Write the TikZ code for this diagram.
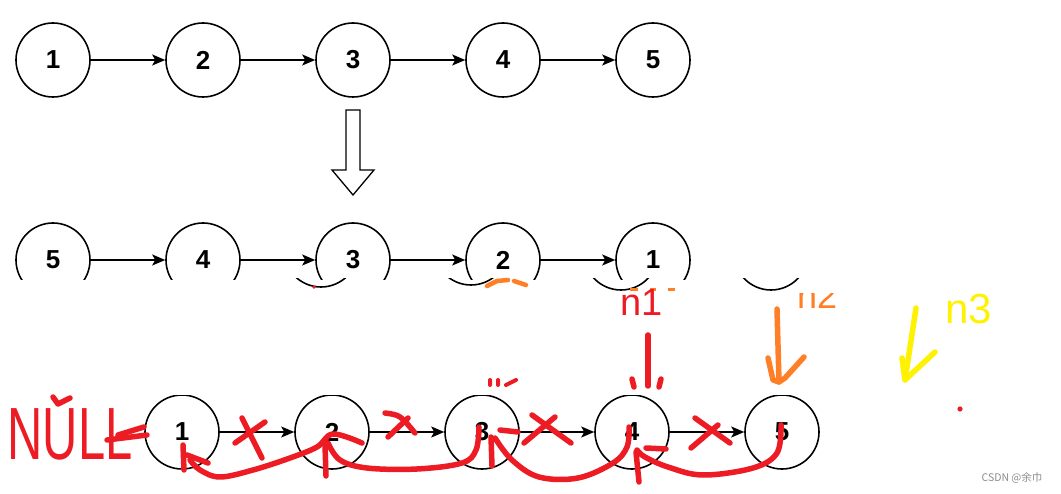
\documentclass[tikz,border=0pt]{standalone}
\usepackage{fontspec}
\setmainfont{Liberation Sans}
\newfontfamily\cjkfont{Noto Sans CJK SC}
\usetikzlibrary{arrows.meta,calc}
\definecolor{pred}{RGB}{237,28,36}
\definecolor{porange}{RGB}{255,127,39}
\definecolor{pyellow}{RGB}{255,242,0}
\begin{document}
\begin{tikzpicture}[x=1pt,y=-1pt,
  nd/.style={circle,draw,line width=1.6pt,minimum size=74pt,inner sep=0pt,font=\fontsize{26}{26}\selectfont\bfseries},
  lk/.style={line width=1.5pt,-{Stealth[length=13pt,width=11pt,inset=3pt]}},
  hand/.style={line width=5.5pt,line cap=round,line join=round,draw=pred},
  handtext/.style={inner sep=0pt,anchor=base west},
]
\useasboundingbox[fill=white] (0,0) rectangle (1061,494);

% ---- row 1
\foreach \i/\x in {1/53,2/203,3/353,4/503,5/653}
  \node[nd] (a\i) at (\x,60) {\i};
\foreach \i/\j in {1/2,2/3,3/4,4/5}
  \draw[lk] (a\i) -- (a\j);

% ---- hollow arrow
\draw[line width=1.3pt,line join=miter] (346,110) -- (360,110) -- (360,170) -- (374,170)
  -- (353,195) -- (332,170) -- (346,170) -- cycle;

% ---- row 2 (clipped)
\begin{scope}
  \clip (0,0) rectangle (1061,280);
  \foreach \i/\x/\t in {1/53/5,2/203/4,3/353/3,4/503/2,5/653/1}
    \node[nd] (b\i) at (\x,260) {\t};
  \foreach \i/\j in {1/2,2/3,3/4,4/5}
    \draw[lk] (b\i) -- (b\j);
\end{scope}

% ---- remnant band
\begin{scope}
  \clip (0,279) rectangle (1061,291);
  \foreach \x/\y in {321/250,471/248,621/253,771/253}
    \draw[line width=1.6pt] (\x,\y) circle[radius=37];
\end{scope}
\draw[hand,draw=porange,line width=4.5pt] (487,286) -- (497,281) -- (508,280);
\draw[hand,draw=porange,line width=4.5pt] (514,281) -- (526,285);
\draw[porange,line width=3pt] (630,290) -- (638,290) (650,290) -- (656,290) (668,290) -- (675,290);
\fill[pred] (314,287) circle[radius=1.8];

% ---- row 3 (clipped)
\begin{scope}
  \clip (0,396) rectangle (1061,494);
  \foreach \i/\x in {1/182,2/332,3/482,4/632,5/782}
    \node[nd] (c\i) at (\x,432) {\i};
  \foreach \i/\j in {1/2,2/3,3/4,4/5}
    \draw[lk] (c\i) -- (c\j);
\end{scope}

% ---- labels n1, n2, n3
\node[handtext,text=pred,font=\fontsize{38}{38}\selectfont] (n1) at (620,316) {n1};
\begin{scope}
  \clip (700,294) rectangle (900,340);
  \node[handtext,text=porange,font=\fontsize{36}{36}\selectfont] (n2) at (797,309) {n2};
\end{scope}
\node[handtext,text=pyellow,font=\fontsize{42}{42}\selectfont] (n3) at (945,324) {n3};

% pointers
\draw[hand] (648,335) -- (648,386);
\draw[hand] (632,379) -- (634,387);
\draw[hand] (661,379) -- (659,387);
\draw[hand,draw=porange] (777,309) -- (779,382);
\draw[hand,draw=porange] (768,358) -- (773,380) -- (779,382) -- (785,378) -- (804,357);
\draw[hand,draw=pyellow] (916,308) -- (905,380);
\draw[hand,draw=pyellow] (902,358) -- (905,380) -- (935,352);
\fill[pred] (960,409) circle[radius=2.6];
\draw[hand,line width=4pt] (490,380) -- (490,385) (498,380) -- (498,385) (506,385) -- (516,380);

% ---- NULL
\node[text=pred,font=\fontsize{74}{74}\selectfont,xscale=0.66,inner sep=0pt] (null) at (70,434) {NULL};
\draw[hand] (53,397) -- (58,404) -- (70,398);
\draw[hand] (144,427) -- (118,435);
\draw[hand] (147,435) -- (107,440);

% ---- crosses
\draw[hand] (242,418) -- (262,458);
\draw[hand] (235,443) -- (265,422);
\draw[hand] (385,413) .. controls (400,415) .. (415,433);
\draw[hand] (388,437) -- (408,418);
\draw[hand] (500,430) -- (518,432);
\draw[hand] (532,415) -- (571,443);
\draw[hand] (524,443) -- (555,417);
\draw[hand] (695,418) -- (730,443);
\draw[hand] (691,448) -- (718,425);

% ---- reversed links (hand drawn)
\draw[hand] plot[smooth,tension=0.6] coordinates {(362,443) (333,434) (317,447) (290,458) (253,470) (220,477) (200,470) (190,460)};
\draw[hand] (183,445) -- (184,470);
\draw[hand] (187,455) -- (208,463);
\draw[hand] plot[smooth,tension=0.6] coordinates {(479,427) (476,450) (462,463) (417,469) (367,468) (340,460) (328,443)};
\draw[hand] (325,445) -- (326,476);
\draw[hand] plot[smooth,tension=0.6] coordinates {(629,427) (627,447) (613,463) (578,478) (539,477) (512,460) (495,438)};
\draw[hand] (491,437) -- (492,466);
\draw[hand] plot[smooth,tension=0.6] coordinates {(781,425) (777,453) (753,468) (703,475) (668,467) (645,457) (637,450)};
\draw[hand] (636,452) -- (639,482);
\draw[hand] (646,448) -- (666,449);

% ---- watermark
\node[text=black!45,font=\cjkfont\fontsize{10.5}{10.5}\selectfont,inner sep=0pt] (wm) at (1012,478) {CSDN @余巾};
\end{tikzpicture}
\end{document}
